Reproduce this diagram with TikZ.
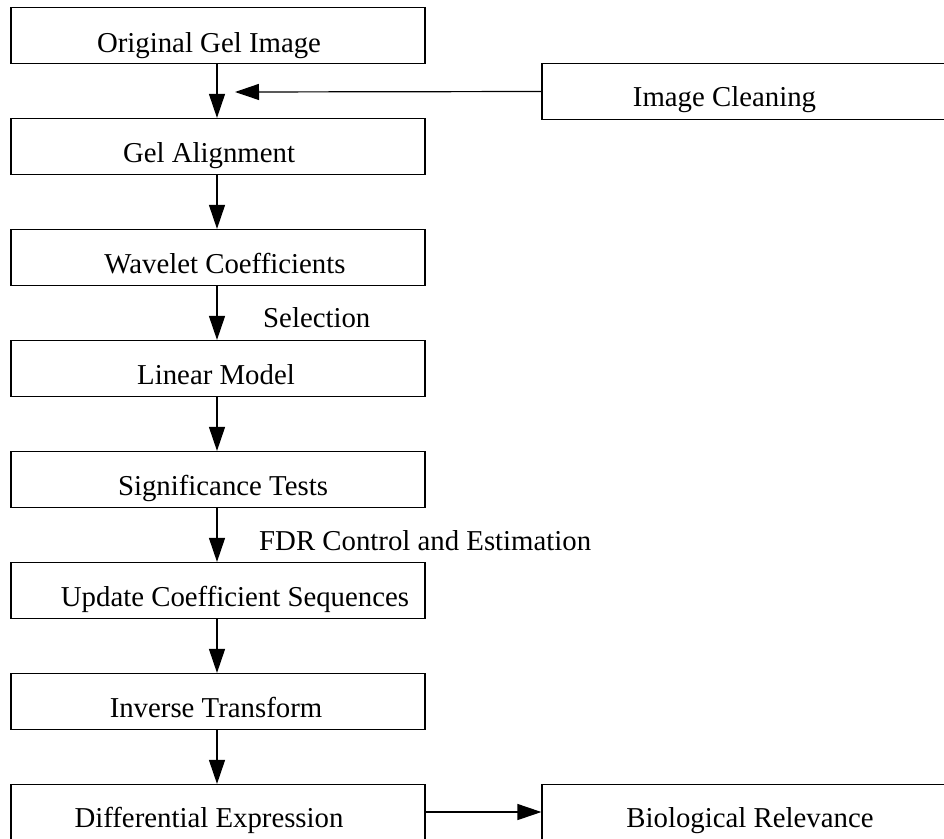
\documentclass[tikz,border=0pt]{standalone}
\usepackage{fontspec}
\setmainfont{Liberation Serif}
\usetikzlibrary{arrows.meta}
\begin{document}
\begin{tikzpicture}[x=1pt,y=-1pt,
  box/.style={draw=black,line width=1.2pt,rectangle,minimum width=414pt,minimum height=56pt,inner sep=0pt},
  lbl/.style={anchor=base,inner sep=0pt,font=\fontsize{28.8}{34}\selectfont},
  side/.style={anchor=base west,inner sep=0pt,font=\fontsize{28.8}{34}\selectfont},
  flow/.style={draw=black,line width=1.2pt,-{Triangle[length=24pt,width=16pt]}}]
\clip (0,0) rectangle (944,838);
% boxes (left column)
\node[box] (orig) at (218,35.5) {};
\node[box] (align) at (218,146.5) {};
\node[box] (wave) at (218,257.5) {};
\node[box] (lin) at (218,368.5) {};
\node[box] (sig) at (218,479.5) {};
\node[box] (upd) at (218,590.5) {};
\node[box] (inv) at (218,701.5) {};
\node[box] (diff) at (218,812.5) {};
% right column
\node[box] (clean) at (749,91.5) {};
\node[box] (bio) at (749,812.5) {};
% labels
\node[lbl] (origT) at (209,52) {Original Gel Image};
\node[lbl] (alignT) at (209,162.5) {Gel Alignment};
\node[lbl] (waveT) at (225,273.5) {Wavelet Coefficients};
\node[lbl] (linT) at (216,384.5) {Linear Model};
\node[lbl] (sigT) at (223,495.5) {Significance Tests};
\node[lbl] (updT) at (235,606.5) {Update Coefficient Sequences};
\node[lbl] (invT) at (216,717.5) {Inverse Transform};
\node[lbl] (diffT) at (209,827.5) {Differential Expression};
\node[lbl] (cleanT) at (724.5,106) {Image Cleaning};
\node[lbl] (bioT) at (750,827.5) {Biological Relevance};
\node[side] (selT) at (263,327) {Selection};
\node[side] (fdrT) at (259,550) {FDR Control and Estimation};
% connectors
\coordinate (cleanTip) at (235,92);
\draw[flow] (orig.south -| 217,0) -- (align.north -| 217,0);
\draw[flow] (align.south -| 217,0) -- (wave.north -| 217,0);
\draw[flow] (wave.south -| 217,0) -- (lin.north -| 217,0);
\draw[flow] (lin.south -| 217,0) -- (sig.north -| 217,0);
\draw[flow] (sig.south -| 217,0) -- (upd.north -| 217,0);
\draw[flow] (upd.south -| 217,0) -- (inv.north -| 217,0);
\draw[flow] (inv.south -| 217,0) -- (diff.north -| 217,0);
\draw[flow] (clean.west) -- (cleanTip);
\draw[flow] (diff.east |- 0,812) -- (bio.west |- 0,812);
\end{tikzpicture}
\end{document}
